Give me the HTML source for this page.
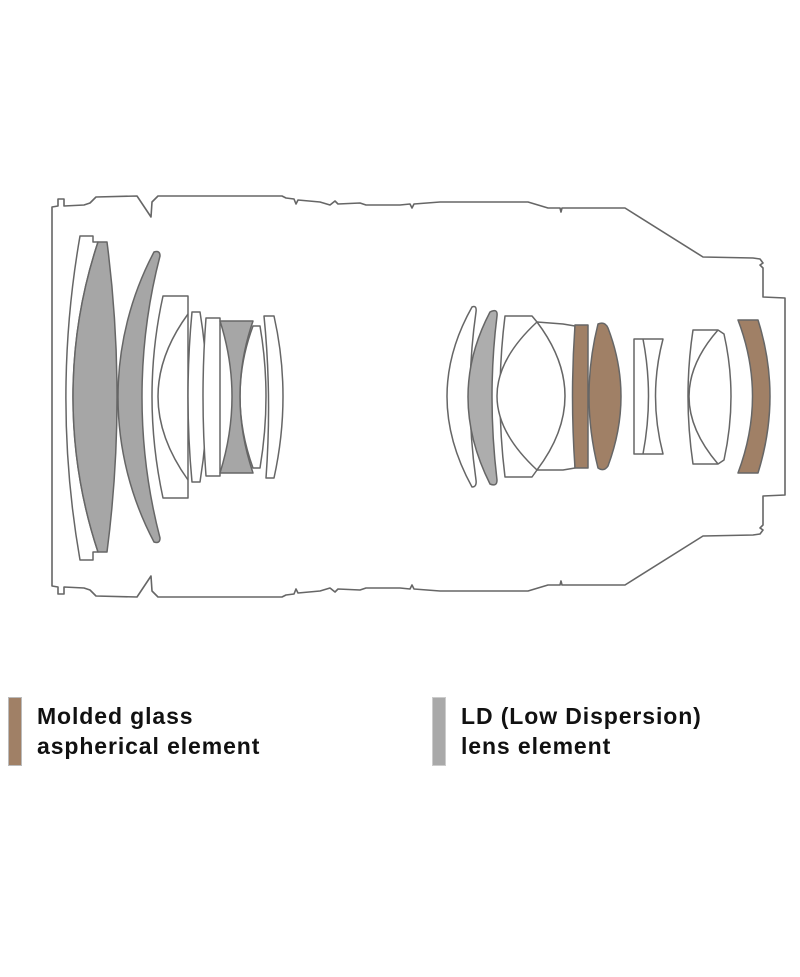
<!DOCTYPE html>
<html><head><meta charset="utf-8"><style>
html,body{margin:0;padding:0;background:#fff;}
body{width:800px;height:977px;position:relative;overflow:hidden;font-family:"Liberation Sans",sans-serif;}
.sw{position:absolute;width:14px;height:69px;}
.t{position:absolute;font-size:23px;font-weight:bold;color:#111;line-height:30px;letter-spacing:0.9px;}
</style></head><body>
<svg width="800" height="977" viewBox="0 0 800 977" style="position:absolute;left:0;top:0">
<g fill="none" stroke="#666" stroke-width="1.6" stroke-linejoin="round">
<g id="top">
<path d="M52,396.5 L52,207 L58,206 L58,199 L64,199 L64,206 L84,205 L90,203 L96,197 L137,196 L151,217 L152,202 L158,196 L282,196 L286,198 L294,199 L296,204 L298,200 L320,202 L330,205 L335,201 L338,204 L360,203 L366,205 L400,205 L410,204 L412,208 L414,204 L440,202 L528,202 L538,205 L548,208 L560,208 L561,212 L562,208 L625,208 L703,257 L753,258 L760,259 L763,263 L760,265 L763,268 L763,297 L785,298 L785,396.5"/>
</g>
<use href="#top" transform="translate(0,793) scale(1,-1)"/>
</g>
<g stroke="#666" stroke-width="1.5" stroke-linejoin="round">
<!-- left group -->
<path fill="#fff" d="M80,236 L93,236 L93,242 L98,242 A493 493 0 0 0 98,552 L93,552 L93,560 L80,560 A944 944 0 0 1 80,236Z"/>
<path fill="#a6a6a6" d="M98,242 L107,242 A1206 1206 0 0 1 107,552 L98,552 A493 493 0 0 1 98,242Z"/>
<path fill="#a6a6a6" d="M154,252 Q160,250 160,256 A561 561 0 0 0 160,538 Q160,544 154,542 A310 310 0 0 1 154,252Z"/>
<path fill="#fff" d="M163,296 L188,296 L188,498 L163,498 Q141,396 163,296Z"/>
<path fill="none" d="M188,314 Q128,396 188,480"/>
<path fill="#fff" d="M192,312 L200,312 Q214,396 200,482 L192,482 Q184,396 192,312Z"/>
<path fill="#fff" d="M206,318 L220,318 L220,476 L206,476 Q200,396 206,318Z"/>
<path fill="#fff" d="M253,326 L260,326 Q272,396 260,468 L253,468 Q227,396 253,326Z"/>
<path fill="#a6a6a6" d="M220,321 L253,321 Q227,396 253,473 L220,473 Q244,396 220,321Z"/>
<path fill="#fff" d="M264,316 L274,316 Q292,396 274,478 L266,478 Q272,396 264,316Z"/>
<!-- right group -->
<path fill="#fff" d="M472,307 Q477,305 476,312 Q464,396 476,480 Q477,487 472,487 Q422,396 472,307Z"/>
<path fill="#adadad" d="M490,312 Q498,308 497,316 Q487,396 497,480 Q497,487 490,484 Q446,396 490,312Z"/>
<path fill="#fff" d="M505,316 L532,316 L537,322 L537,470 L532,477 L505,477 Q495,396 505,316Z"/>
<path fill="#fff" d="M537,322 L563,324 L575,326 L575,468 L563,470 L537,470Z"/>
<path fill="#fff" d="M537,322 Q457,396 537,470 Q593,396 537,322Z"/>
<path fill="#a08066" d="M575,325 L588,325 L588,468 L575,468 Q570,396 575,325Z"/>
<path fill="#a08066" d="M598,324 Q605,321 608,328 Q634,396 608,466 Q604,472 598,468 Q580,396 598,324Z"/>
<path fill="#fff" d="M634,339 L663,339 Q648,396 663,454 L634,454 Z"/>
<path fill="none" d="M643,339 Q654,396 643,454"/>
<path fill="#fff" d="M693,330 L718,330 L724,334 Q738,396 724,460 L718,464 L693,464 Q683,396 693,330Z"/>
<path fill="none" d="M718,330 Q660,396 718,464"/>
<path fill="#a08066" d="M738,320 L758,320 Q782,396 758,473 L738,473 Q767,396 738,320Z"/>
</g>
</svg>
<div class="sw" style="left:8px;top:697px;background:#a08066;border:1px solid #bbb;box-sizing:border-box"></div>
<div class="t" style="left:37px;top:701px">Molded glass<br>aspherical element</div>
<div class="sw" style="left:432px;top:697px;background:#a9a9a9;border:1px solid #ccc;box-sizing:border-box"></div>
<div class="t" style="left:461px;top:701px">LD (Low Dispersion)<br>lens element</div>
</body></html>
